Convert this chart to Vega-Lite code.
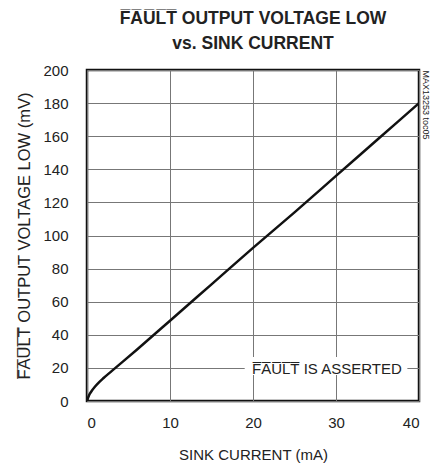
{
  "$schema": "https://vega.github.io/schema/vega-lite/v6.json",
  "width": 332,
  "height": 331,
  "autosize": "none",
  "padding": {"left": 87, "top": 70, "right": 11, "bottom": 63},
  "background": "white",
  "title": {
    "text": ["F\u0305A\u0305U\u0305L\u0305T\u0305 OUTPUT VOLTAGE LOW", "vs. SINK CURRENT"],
    "font": "Liberation Sans",
    "fontSize": 17.5,
    "fontWeight": "bold",
    "color": "#222",
    "anchor": "middle",
    "frame": "group",
    "offset": 11,
    "lineHeight": 25
  },
  "config": {
    "view": {"stroke": "#111", "strokeWidth": 2.5},
    "axis": {
      "labelFont": "Liberation Sans",
      "labelFontSize": 15,
      "labelColor": "#222",
      "titleFont": "Liberation Sans",
      "titleFontSize": 15,
      "titleFontWeight": "normal",
      "titleColor": "#222",
      "domain": false,
      "ticks": false,
      "gridColor": "#777",
      "gridWidth": 1,
      "gridOpacity": 1
    }
  },
  "datasets": {
    "curve": [
      {"i": 0, "v": 0},
      {"i": 0.25, "v": 3.5},
      {"i": 0.5, "v": 5.6},
      {"i": 1, "v": 8.9},
      {"i": 1.5, "v": 11.6},
      {"i": 2, "v": 13.9},
      {"i": 3, "v": 18.2},
      {"i": 6, "v": 31},
      {"i": 10, "v": 48.5},
      {"i": 15, "v": 70.5},
      {"i": 20, "v": 92.5},
      {"i": 25, "v": 114},
      {"i": 30, "v": 136},
      {"i": 35, "v": 158},
      {"i": 40, "v": 180}
    ],
    "label": [
      {"x1": 19, "x2": 38.6, "y1": 15.7, "y2": 26.6, "xc": 28.9, "yc": 19.3, "t": "F\u0305A\u0305U\u0305L\u0305T\u0305 IS ASSERTED"}
    ]
  },
  "layer": [
    {
      "data": {"name": "curve"},
      "mark": {"type": "line", "color": "#111", "strokeWidth": 2.5, "interpolate": "monotone", "clip": true},
      "encoding": {
        "x": {
          "field": "i", "type": "quantitative",
          "scale": {"domain": [0, 40], "nice": false},
          "axis": {"values": [0, 10, 20, 30, 40], "title": "SINK CURRENT (mA)", "labelPadding": 14, "titlePadding": 17, "grid": true}
        },
        "y": {
          "field": "v", "type": "quantitative",
          "scale": {"domain": [0, 200], "nice": false},
          "axis": {"orient": "left", "values": [0, 20, 40, 60, 80, 100, 120, 140, 160, 180, 200], "title": "F\u0305A\u0305U\u0305L\u0305T\u0305 OUTPUT VOLTAGE LOW (mV)", "titleFontSize": 16.5, "labelPadding": 19, "titlePadding": 10, "grid": true}
        }
      }
    },
    {
      "data": {"name": "label"},
      "mark": {"type": "rect", "fill": "white"},
      "encoding": {
        "x": {"field": "x1", "type": "quantitative"},
        "x2": {"field": "x2"},
        "y": {
          "field": "y1", "type": "quantitative",
          "scale": {"domain": [0, 200], "nice": false},
          "axis": {"orient": "right", "title": "MAX13253 toc05", "labels": false, "grid": false, "titleFontSize": 9, "titleFont": "Liberation Sans", "titleAngle": 90, "titleAnchor": "end", "titleAlign": "left", "titlePadding": 1, "titleBaseline": "bottom"}
        },
        "y2": {"field": "y2"}
      }
    },
    {
      "data": {"name": "label"},
      "mark": {"type": "text", "font": "Liberation Sans", "fontSize": 15, "color": "#222", "align": "center", "baseline": "middle"},
      "encoding": {
        "x": {"field": "xc", "type": "quantitative"},
        "y": {"field": "yc", "type": "quantitative", "scale": {"domain": [0, 200], "nice": false}, "axis": null},
        "text": {"field": "t"}
      }
    }
  ],
  "resolve": {"scale": {"y": "independent"}, "axis": {"y": "independent"}}
}
